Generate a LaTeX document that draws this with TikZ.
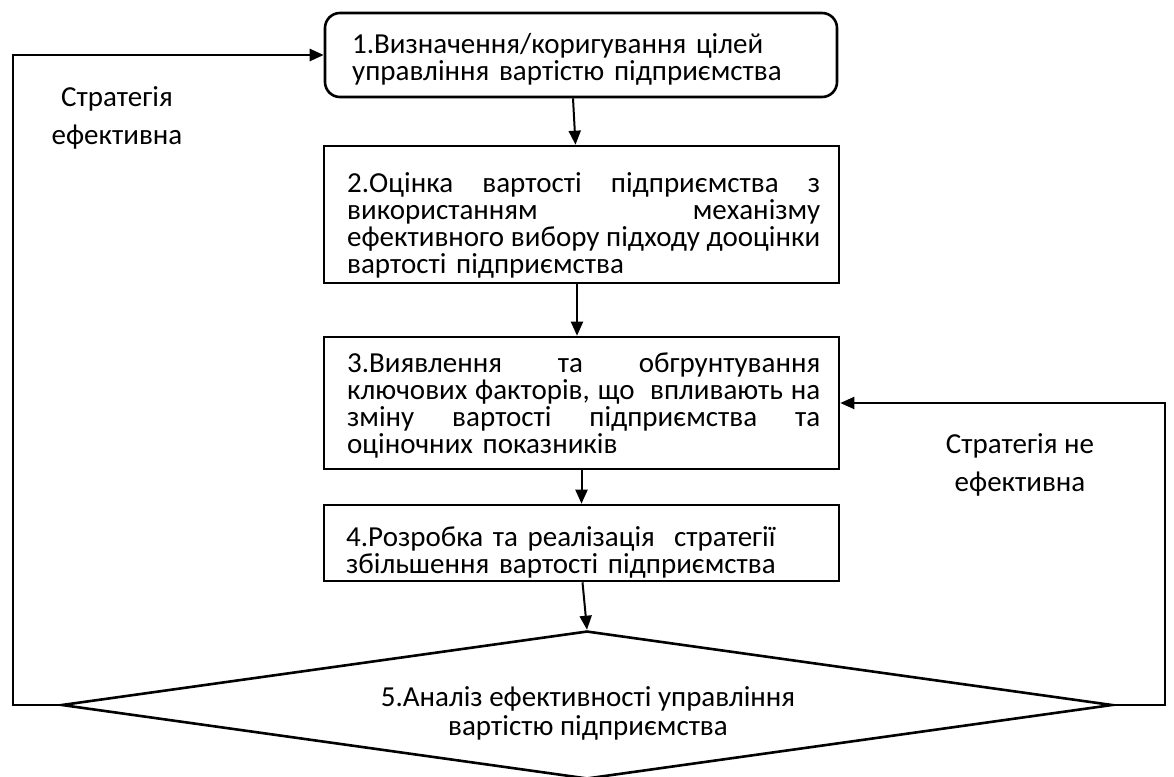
\documentclass[tikz,border=0pt]{standalone}
\usepackage{fontspec}
\setmainfont{Carlito}
\usetikzlibrary{arrows.meta,shapes.geometric}
\hyphenpenalty=10000
\exhyphenpenalty=10000
\lineskiplimit=-100pt

% one justified line of a block
\newcommand{\jline}[1]{\leavevmode\hbox to 473pt{\spaceskip=0.226em plus 1fil minus 0.2em\relax #1}}

\begin{document}
\begin{tikzpicture}[x=1pt,y=-1pt,
	box/.style={draw,line width=2.6pt,inner sep=0pt},
	txt/.style={inner sep=0pt,anchor=north west,font=\fontsize{29}{27}\selectfont},
	lbl/.style={inner sep=0pt,anchor=north,align=center,font=\fontsize{29}{38}\selectfont},
	arr/.style={line width=2pt,-{Triangle[length=14pt,width=12pt]}}]
	
	\useasboundingbox (0,0) rectangle (1174,776);
	
	% blocks
	\node[box,rounded corners=15pt,minimum width=512pt,minimum height=84pt] (b1) at (581,55) {};
	\node[box,minimum width=515pt,minimum height=137pt] (b2) at (581.5,214.5) {};
	\node[box,minimum width=515pt,minimum height=132pt] (b3) at (581.5,403) {};
	\node[box,minimum width=515pt,minimum height=76pt] (b4) at (581.5,543) {};
	\node[draw,diamond,line width=2.6pt,inner sep=0pt,minimum width=1051pt,minimum height=148pt] (d) at (587,705) {};
	
	% texts
	\node[txt,text width=480pt,align=left] (t1) at (352,33) {1.Визначення/коригування цілей\\управління вартістю підприємства};
	\node[txt,text width=473pt,align=left] (t2) at (347,172) {\jline{2.Оцінка вартості підприємства з}\\\jline{використанням механізму}\\\jline{ефективного вибору підходу дооцінки}\\вартості підприємства};
	\node[txt,text width=473pt,align=left] (t3) at (347,353) {\jline{3.Виявлення та обгрунтування}\\\jline{ключових факторів, що\ \ впливають на}\\\jline{зміну вартості підприємства та}\\оціночних показників};
	\node[txt,text width=473pt,align=left] (t4) at (346,526) {4.Розробка та реалізація\ \ стратегії\\збільшення вартості підприємства};
	\node[txt,anchor=north,align=center,font=\fontsize{29}{29}\selectfont] (t5) at (588,686) {5.Аналіз ефективності управління\\вартістю підприємства};
	
	\node[lbl] (l1) at (117,86) {Стратегія\\ефективна};
	\node[lbl] (l2) at (1020,433) {Стратегія не\\ефективна};
	
	% arrows
	\draw[arr] ([xshift=-8pt]b1.south) -- ([xshift=-6pt]b2.north);
	\draw[arr] ([xshift=-4.5pt]b2.south) -- ([xshift=-4.5pt]b3.north);
	\draw[arr] (b3.south) -- (b4.north);
	\draw[arr] ([xshift=1pt]b4.south) -- (d.north);
	
	\coordinate (lc) at (13,705);
	\coordinate (rc) at (1165,705);
	\draw[arr,line width=2.6pt] (d.west) -- (lc) |- (b1.west);
	\draw[arr] (d.east) -- (rc) |- (b3.east);
	
\end{tikzpicture}
\end{document}
